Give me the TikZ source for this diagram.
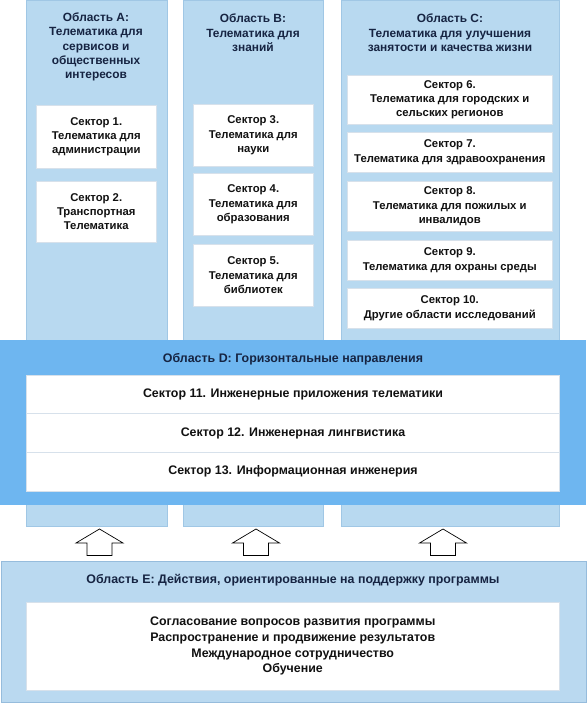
\documentclass[tikz,border=0pt]{standalone}
\usepackage{fontspec}
\setmainfont{Liberation Sans}
\definecolor{colfill}{RGB}{184,217,240}
\definecolor{colline}{RGB}{160,199,229}
\definecolor{dfill}{RGB}{110,182,240}
\definecolor{efill}{RGB}{186,217,240}
\definecolor{eline}{RGB}{150,188,220}
\definecolor{titlecol}{RGB}{22,36,66}
\definecolor{boxline}{RGB}{215,225,235}
\definecolor{textcol}{RGB}{17,17,17}
\tikzset{
  area/.style={draw=colline, line width=0.8pt, fill=colfill, anchor=north west, inner sep=0},
  secbox/.style={draw=boxline, line width=0.5pt, fill=white, anchor=north west, inner sep=0},
  ttl/.style={align=center, text=titlecol, font=\bfseries\fontsize{11.9}{14.4}\selectfont, inner sep=0},
  wttl/.style={align=center, text=titlecol, font=\bfseries\fontsize{12.4}{14.5}\selectfont, inner sep=0},
  sectxt/.style={align=center, text=textcol, font=\bfseries\fontsize{11.3}{14.2}\selectfont, inner sep=0},
  rowtxt/.style={align=center, text=textcol, font=\bfseries\fontsize{12.4}{15.6}\selectfont, inner sep=0},
  blockarrow/.style={draw=black, line width=0.7pt, fill=white, line join=miter}
}
\begin{document}
\begin{tikzpicture}[x=1pt,y=-1pt]
\useasboundingbox (0,0) rectangle (586,703);
\fill[white] (0,0) rectangle (586,703);
% columns
\node[area, minimum width=141, minimum height=526] (colA) at (26,0) {};
\node[area, minimum width=140, minimum height=526] (colB) at (183,0) {};
\node[area, minimum width=218, minimum height=526] (colC) at (341,0) {};
% titles
\node[ttl] (tA) at (96,47) {Область A:\\Телематика для\\сервисов и\\общественных\\интересов};
\node[ttl] (tB) at (253,33) {Область B:\\Телематика для\\знаний};
\node[ttl] (tC) at (450,33) {Область C:\\Телематика для улучшения\\занятости и качества жизни};
% sector boxes A
\node[secbox, minimum width=120, minimum height=63] (s1) at (36,105) {};
\node[sectxt] at (s1.center) {Сектор 1.\\Телематика для\\администрации};
\node[secbox, minimum width=120, minimum height=61] (s2) at (36,181) {};
\node[sectxt] at (s2.center) {Сектор 2.\\Транспортная\\Телематика};
% B
\node[secbox, minimum width=120, minimum height=62] (s3) at (193,104) {};
\node[sectxt] at (s3.center) {Сектор 3.\\Телематика для\\науки};
\node[secbox, minimum width=120, minimum height=62] (s4) at (193,173) {};
\node[sectxt] at (s4.center) {Сектор 4.\\Телематика для\\образования};
\node[secbox, minimum width=120, minimum height=62] (s5) at (193,244) {};
\node[sectxt] at (s5.center) {Сектор 5.\\Телематика для\\библиотек};
% C
\node[secbox, minimum width=205, minimum height=49] (s6) at (347,75) {};
\node[sectxt] at (s6.center) {Сектор 6.\\Телематика для городских и\\сельских регионов};
\node[secbox, minimum width=205, minimum height=40] (s7) at (347,132) {};
\node[sectxt] at (s7.center) {Сектор 7.\\Телематика для здравоохранения};
\node[secbox, minimum width=205, minimum height=50] (s8) at (347,181) {};
\node[sectxt] at (s8.center) {Сектор 8.\\Телематика для пожилых и\\инвалидов};
\node[secbox, minimum width=205, minimum height=40] (s9) at (347,240) {};
\node[sectxt] at (s9.center) {Сектор 9.\\Телематика для охраны среды};
\node[secbox, minimum width=205, minimum height=40] (s10) at (347,288) {};
\node[sectxt] at (s10.center) {Сектор 10.\\Другие области исследований};
% area D
\node[fill=dfill, anchor=north west, inner sep=0, minimum width=586, minimum height=165] (areaD) at (0,340) {};
\node[wttl] (tD) at (293,359) {Область D: Горизонтальные направления};
\node[secbox, minimum width=533, minimum height=116] (dbox) at (26,375) {};
\draw[boxline, line width=0.6pt] (26,413.5) -- (559,413.5);
\draw[boxline, line width=0.6pt] (26,452.5) -- (559,452.5);
\node[rowtxt] (s11) at (293,394) {Сектор 11. Инженерные приложения телематики};
\node[rowtxt] (s12) at (293,433) {Сектор 12. Инженерная лингвистика};
\node[rowtxt] (s13) at (293,471.5) {Сектор 13. Информационная инженерия};
% area E
\node[draw=eline, line width=0.8pt, fill=efill, anchor=north west, inner sep=0, minimum width=585, minimum height=141.5] (areaE) at (0.5,560.5) {};
\node[wttl] (tE) at (293,580) {Область E: Действия, ориентированные на поддержку программы};
\node[secbox, minimum width=533, minimum height=88] (ebox) at (26,602) {};
\node[rowtxt] (etxt) at (ebox.center) {Согласование вопросов развития программы\\Распространение и продвижение результатов\\Международное сотрудничество\\Обучение};
% block arrows
\foreach \cx/\nm in {99.5/arA, 256/arB, 443/arC}{
  \coordinate (\nm) at (\cx,529);
  \draw[blockarrow] (\nm) -- ++(23.5,14) -- ++(-11,0) -- ++(0,12.5) -- ++(-25,0) -- ++(0,-12.5) -- ++(-11,0) -- cycle;
}
\end{tikzpicture}
\end{document}
